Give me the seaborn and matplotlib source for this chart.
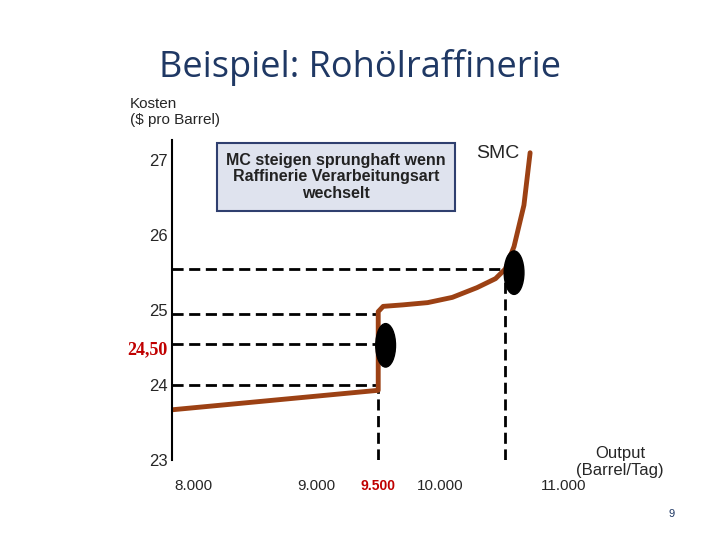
import matplotlib
matplotlib.use("Agg")
import matplotlib.pyplot as plt
import seaborn as sns
from matplotlib.patches import Ellipse

sns.set_theme(style="white")
plt.rcParams['font.family'] = ['Liberation Sans', 'DejaVu Sans']

x_ticks = [8000, 9000, 9500, 10000, 11000]
x_labels = ["8.000", "9.000", "9.500", "10.000", "11.000"]
y_ticks = [23, 24, 24.5, 25, 26, 27]
y_labels = ["23", "24", "24,50", "25", "26", "27"]

smc_x = [7830, 9500, 9500, 9540, 9700, 9900, 10100, 10300, 10450, 10530, 10600, 10680, 10730]
smc_y = [23.67, 23.93, 24.98, 25.05, 25.07, 25.10, 25.17, 25.30, 25.42, 25.55, 25.85, 26.4, 27.1]

fig = plt.figure(figsize=(7.2, 5.4), dpi=100)
ax = fig.add_axes([172/720, 80/540, 418/720, 320/540])
ax.set_xlim(7830, 11215)
ax.set_ylim(23, 27.27)

dash = (0, (4, 2))
ax.plot([7830, 10530], [25.55, 25.55], ls=dash, color="black", lw=2)
ax.plot([7830, 9500], [24.95, 24.95], ls=dash, color="black", lw=2)
ax.plot([7830, 9500], [24.55, 24.55], ls=dash, color="black", lw=2)
ax.plot([7830, 9500], [24.0, 24.0], ls=dash, color="black", lw=2)
ax.plot([9500, 9500], [23, 24.55], ls=dash, color="black", lw=2)
ax.plot([10530, 10530], [23, 25.55], ls=dash, color="black", lw=2)

sns.lineplot(x=smc_x, y=smc_y, sort=False, estimator=None, color="#9c4114", lw=3.5, ax=ax)

ax.add_patch(Ellipse((9560, 24.53), 160, 0.58, color="black", zorder=5))
ax.add_patch(Ellipse((10600, 25.5), 160, 0.58, color="black", zorder=5))

ax.set_xticks(x_ticks)
ax.set_xticklabels(x_labels, fontsize=11)
ax.set_yticks(y_ticks)
ax.set_yticklabels(y_labels, fontsize=12)
for t in ax.get_yticklabels():
    if t.get_text() == "24,50":
        t.set_color("#c00000"); t.set_fontweight("bold"); t.set_family("Liberation Serif"); t.set_fontsize(13)
for t in ax.get_xticklabels():
    if t.get_text() == "9.500":
        t.set_color("#c00000"); t.set_fontweight("bold"); t.set_fontsize(10)
ax.tick_params(axis="both", length=0, pad=3)
ax.tick_params(axis="x", pad=14)
for s in ["top", "right", "bottom"]:
    ax.spines[s].set_visible(False)
ax.spines["left"].set_color("black")
ax.spines["left"].set_linewidth(1.5)

fig.text(360/720, 1-67/540, "Beispiel: Rohölraffinerie", ha="center", va="center",
         fontsize=26, color="#1f3864", family=["Open Sans", "DejaVu Sans"])
fig.text(130/720, 1-112/540, "Kosten\n($ pro Barrel)", ha="left", va="center", fontsize=11, linespacing=1.1)
fig.text(336/720, 1-177/540, "MC steigen sprunghaft wenn\nRaffinerie Verarbeitungsart\nwechselt",
         ha="center", va="center", fontsize=11.5, fontweight="bold", color="#222222", linespacing=1.15,
         bbox=dict(boxstyle="square,pad=0.6", fc="#dfe3ee", ec="#2f3f6f", lw=1.5))
fig.text(476/720, 1-154/540, "SMC", ha="left", va="center", fontsize=14)
fig.text(620/720, 1-462/540, "Output\n(Barrel/Tag)", ha="center", va="center", fontsize=12, linespacing=1.1)
fig.text(672/720, 1-514/540, "9", ha="center", va="center", fontsize=8, color="#1f3864")

fig.savefig("out.png", dpi=100)
